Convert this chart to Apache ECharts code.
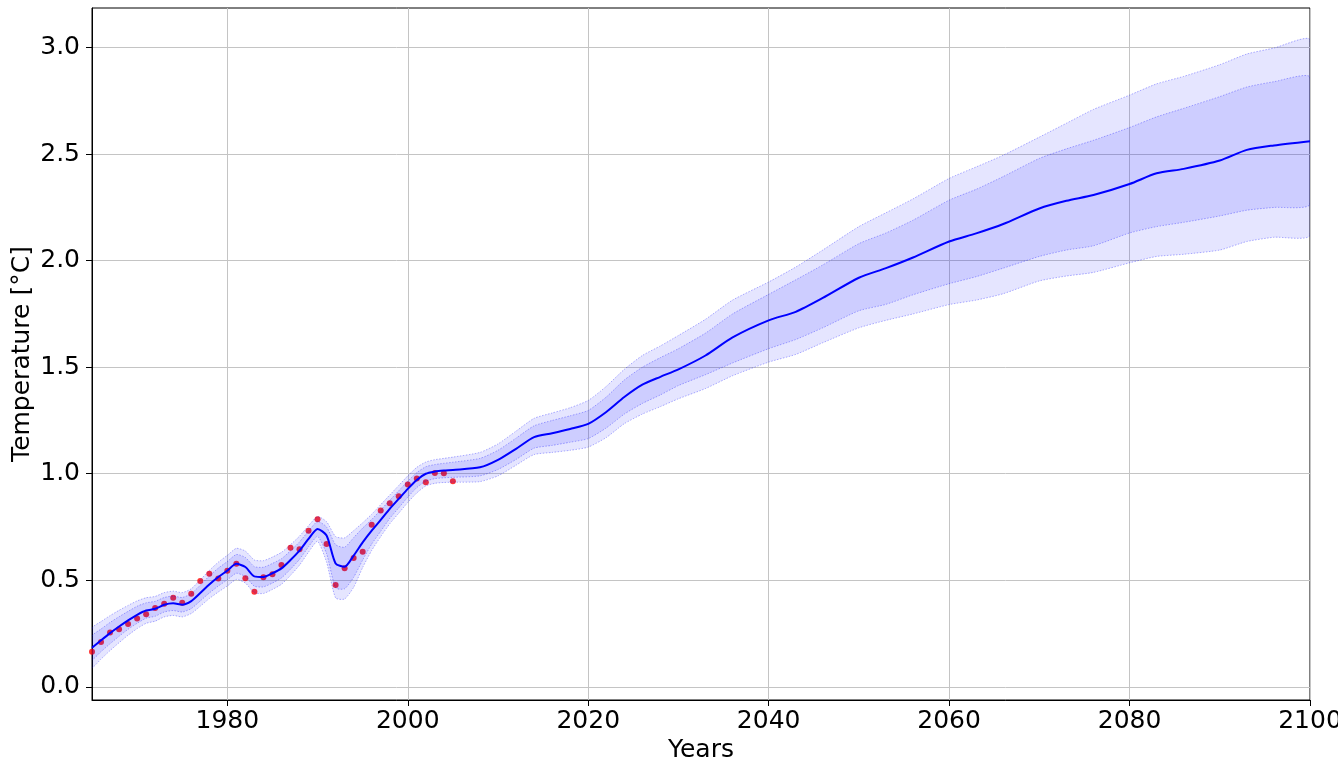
<!DOCTYPE html>
<html><head><meta charset="utf-8">
<script src="https://cdn.jsdelivr.net/npm/echarts@6/dist/echarts.min.js"></script>
<style>html,body{margin:0;padding:0;background:#fff}#c{width:1338px;height:762px}</style>
</head><body><div id="c"></div>
<script>
const years = [1965,1966,1967,1968,1969,1970,1971,1972,1973,1974,1975,1976,1977,1978,1979,1980,1981,1982,1983,1984,1985,1986,1987,1988,1989,1990,1991,1992,1993,1994,1995,1996,1997,1998,1999,2000,2001,2002,2003,2004,2005,2008,2010,2012,2014,2016,2018,2020,2022,2024,2026,2028,2030,2033,2036,2040,2043,2046,2050,2053,2056,2060,2063,2066,2070,2073,2076,2080,2083,2086,2090,2093,2096,2100];
const meanVals = [0.183,0.218,0.252,0.283,0.312,0.338,0.358,0.366,0.385,0.392,0.385,0.402,0.440,0.480,0.515,0.545,0.577,0.562,0.518,0.515,0.533,0.556,0.595,0.639,0.694,0.741,0.710,0.579,0.564,0.616,0.678,0.733,0.783,0.835,0.882,0.929,0.971,1.000,1.010,1.015,1.018,1.030,1.065,1.117,1.172,1.190,1.210,1.234,1.290,1.360,1.418,1.455,1.490,1.555,1.640,1.720,1.760,1.825,1.920,1.965,2.015,2.090,2.128,2.172,2.245,2.281,2.308,2.360,2.410,2.431,2.470,2.520,2.541,2.561];
const outerUpper = [0.275,0.306,0.334,0.359,0.382,0.403,0.418,0.424,0.442,0.449,0.442,0.460,0.502,0.546,0.585,0.617,0.650,0.637,0.595,0.592,0.609,0.631,0.667,0.707,0.756,0.799,0.775,0.705,0.699,0.733,0.770,0.810,0.855,0.900,0.945,0.990,1.030,1.055,1.066,1.072,1.078,1.100,1.140,1.200,1.260,1.285,1.310,1.344,1.410,1.490,1.555,1.600,1.649,1.725,1.815,1.900,1.970,2.050,2.160,2.225,2.290,2.386,2.440,2.495,2.580,2.645,2.710,2.777,2.830,2.865,2.920,2.970,2.998,3.036];
const innerUpper = [0.238,0.271,0.302,0.329,0.354,0.378,0.394,0.401,0.419,0.426,0.419,0.437,0.477,0.520,0.557,0.588,0.621,0.607,0.564,0.561,0.579,0.601,0.638,0.680,0.731,0.776,0.750,0.667,0.655,0.700,0.745,0.785,0.830,0.875,0.920,0.965,1.005,1.033,1.043,1.049,1.054,1.072,1.110,1.167,1.225,1.250,1.272,1.297,1.360,1.440,1.500,1.545,1.587,1.660,1.750,1.842,1.910,1.980,2.080,2.130,2.190,2.284,2.335,2.395,2.480,2.525,2.565,2.625,2.675,2.715,2.770,2.815,2.840,2.861];
const innerLower = [0.128,0.165,0.202,0.237,0.270,0.298,0.322,0.331,0.351,0.358,0.351,0.367,0.403,0.440,0.473,0.502,0.533,0.517,0.472,0.469,0.487,0.511,0.552,0.598,0.657,0.706,0.625,0.464,0.460,0.514,0.595,0.670,0.730,0.790,0.840,0.890,0.935,0.965,0.977,0.981,0.983,0.990,1.020,1.067,1.120,1.133,1.148,1.165,1.215,1.280,1.330,1.370,1.414,1.465,1.520,1.587,1.630,1.685,1.765,1.795,1.840,1.892,1.925,1.965,2.020,2.050,2.070,2.130,2.160,2.180,2.210,2.237,2.250,2.265];
const outerLower = [0.091,0.130,0.170,0.207,0.242,0.273,0.298,0.308,0.328,0.335,0.328,0.344,0.378,0.414,0.445,0.473,0.504,0.487,0.441,0.438,0.457,0.481,0.523,0.571,0.632,0.683,0.585,0.417,0.412,0.467,0.560,0.640,0.705,0.765,0.815,0.865,0.910,0.943,0.955,0.959,0.960,0.963,0.990,1.040,1.090,1.100,1.110,1.125,1.170,1.235,1.280,1.315,1.352,1.400,1.460,1.524,1.560,1.615,1.685,1.720,1.750,1.794,1.815,1.845,1.905,1.928,1.945,1.990,2.020,2.030,2.050,2.090,2.110,2.120];
const obsYears = [1965,1966,1967,1968,1969,1970,1971,1972,1973,1974,1975,1976,1977,1978,1979,1980,1981,1982,1983,1984,1985,1986,1987,1988,1989,1990,1991,1992,1993,1994,1995,1996,1997,1998,1999,2000,2001,2002,2003,2004,2005];
const obsVals = [0.164,0.210,0.255,0.270,0.295,0.320,0.340,0.370,0.390,0.418,0.395,0.437,0.497,0.530,0.508,0.545,0.578,0.510,0.446,0.514,0.528,0.572,0.653,0.645,0.732,0.786,0.670,0.478,0.556,0.605,0.634,0.760,0.827,0.861,0.894,0.950,0.978,0.960,1.004,1.002,0.965];
const xTicks = [1980,2000,2020,2040,2060,2080,2100];
const yTicks = [0,0.5,1,1.5,2,2.5,3];

const FONT = 'DejaVu Sans';
function bandSeries(upper, lower) {
  return {
    type: 'custom', z: 2, clip: true, silent: true,
    data: [[years[0], meanVals[0]]],
    renderItem: function (params, api) {
      const pts = [];
      for (let k = 0; k < years.length; k++) pts.push(api.coord([years[k], upper[k]]));
      for (let k = years.length - 1; k >= 0; k--) pts.push(api.coord([years[k], lower[k]]));
      return {
        type: 'polygon', shape: { points: pts, smooth: 0.2 },
        style: { fill: 'rgba(0,0,255,0.1)', stroke: 'rgba(0,0,255,0.45)', lineWidth: 0.7, lineDash: [1.5, 1.5] }
      };
    }
  };
}
const chart = echarts.init(document.getElementById('c'), null, { renderer: 'canvas' });
chart.setOption({
  animation: false,
  backgroundColor: '#fff',
  grid: { left: 92, right: 28, top: 8, bottom: 62, containLabel: false, outerBoundsMode: 'none', show: true, borderColor: '#000', borderWidth: 1, backgroundColor: 'transparent' },
  xAxis: {
    type: 'value', min: 1965, max: 2100,
    name: 'Years', nameLocation: 'middle', nameGap: 38, nameMoveOverlap: false,
    nameTextStyle: { fontSize: 25, color: '#000', fontFamily: FONT },
    axisLine: { show: true, onZero: false, lineStyle: { color: '#000', width: 1 } },
    axisTick: { show: true, inside: false, length: 6, customValues: xTicks, lineStyle: { color: '#000', width: 1 } },
    axisLabel: { customValues: xTicks, fontSize: 25, color: '#000', margin: 9, fontFamily: FONT, formatter: v => String(v) },
    splitLine: { show: true, lineStyle: { color: '#c4c4c4', width: 1 } }
  },
  yAxis: {
    type: 'value', min: -0.062, max: 3.186,
    name: 'Temperature [°C]', nameLocation: 'middle', nameGap: 57, nameMoveOverlap: false,
    nameTextStyle: { fontSize: 25, color: '#000', fontFamily: FONT },
    axisLine: { show: true, onZero: false, lineStyle: { color: '#000', width: 1 } },
    axisTick: { show: true, inside: false, length: 6, customValues: yTicks, lineStyle: { color: '#000', width: 1 } },
    axisLabel: { customValues: yTicks, fontSize: 25, color: '#000', margin: 12, fontFamily: FONT, formatter: v => v.toFixed(1) },
    splitLine: { show: true, lineStyle: { color: '#c4c4c4', width: 1 } }
  },
  series: [
    { type: 'scatter', z: 1, data: obsYears.map((y, i) => [y, obsVals[i]]), symbolSize: 6, itemStyle: { color: '#ff0000' }, silent: true },
    bandSeries(outerUpper, outerLower),
    bandSeries(innerUpper, innerLower),
    { type: 'line', z: 3, data: years.map((y, i) => [y, meanVals[i]]), showSymbol: false, smooth: 0.25, lineStyle: { color: '#0000ff', width: 2 }, silent: true }
  ]
});
</script></body></html>
